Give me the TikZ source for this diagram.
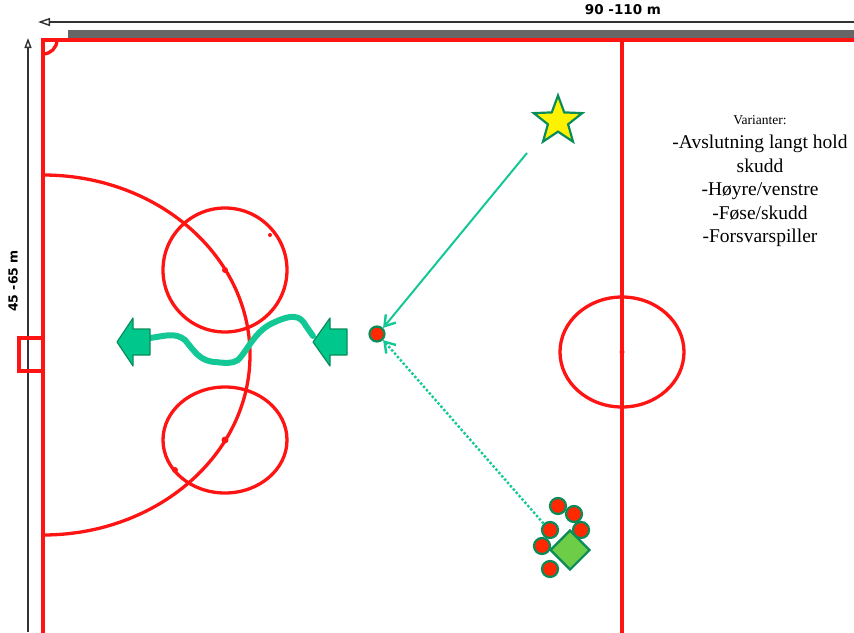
\documentclass[tikz,border=0pt]{standalone}
\usepackage{fontspec}
\setmainfont{Liberation Serif}
\newfontfamily\dejab{DejaVu Sans}
\usetikzlibrary{arrows.meta,shapes.geometric}
\definecolor{rinkred}{RGB}{255,20,20}
\definecolor{teal}{RGB}{20,200,150}
\definecolor{dkgreen}{RGB}{10,140,90}
\definecolor{arrfill}{RGB}{0,200,140}
\definecolor{lgreen}{RGB}{110,205,70}
\definecolor{plred}{RGB}{255,40,0}
\tikzset{
  rink/.style={draw=rinkred, line width=4pt},
  rinkthin/.style={draw=rinkred, line width=3.3pt},
  player/.style={circle, draw=dkgreen, line width=2.2pt, fill=plred, minimum size=16pt, inner sep=0pt},
  dotred/.style={circle, fill=rinkred, minimum size=6pt, inner sep=0pt},
  blockarrow/.style={draw=dkgreen, line width=1.2pt, fill=arrfill, line join=round},
  dim/.style={draw=black!80, line width=1.4pt},
  lbl/.style={font=\dejab\bfseries\fontsize{13.5}{15}\selectfont, inner sep=0pt},
}
\begin{document}
\begin{tikzpicture}[x=1pt,y=-1pt]
\useasboundingbox (0,0) rectangle (854,632);
% dimension arrows
\coordinate (tl) at (38,22);
\coordinate (tr) at (854,22);
\draw[dim, -{Triangle[open,length=12pt,width=8pt]}] (tr) -- (tl);
\node[lbl] (lenlbl) at (623,10) {90 -110 m};
\coordinate (vb) at (28,632);
\coordinate (vt) at (28,38);
\draw[dim, -{Triangle[open,length=10pt,width=7pt]}] (vb) -- (vt);
\node[lbl, rotate=90, font=\dejab\bfseries\fontsize{12.5}{14}\selectfont] (widlbl) at (13,281) {45 -65 m};
% gray board
\fill[black!60] (68,30) rectangle (854,38);
% rink
\draw[rink] (43,640) -- (43,40) -- (860,40);
\draw[rink] (622,40) -- (622,640);
\draw[rinkthin] (43,54) arc[start angle=-90, end angle=0, radius=14pt];
\draw[rinkthin] (43,338) -- (19,338) -- (19,371) -- (43,371);
% zone arc
\draw[rinkthin] (43,175) arc[start angle=-90, end angle=90, x radius=207pt, y radius=-180pt];
% faceoff circles
\draw[rinkthin] (225,270) ellipse[x radius=62pt, y radius=62pt];
\draw[rinkthin] (225,440) ellipse[x radius=62pt, y radius=53pt];
\draw[rinkthin] (622,352) ellipse[x radius=62pt, y radius=55pt];
\node[dotred] (d1) at (225,270) {};
\node[dotred, minimum size=7pt] (d2) at (225,440) {};
\node[dotred, minimum size=5pt] (d3) at (622,352) {};
\node[dotred, minimum size=4pt] (d4) at (270,235) {};
\node[dotred, minimum size=6pt] (d5) at (175,470) {};
% skating path
\draw[teal, line width=6pt, line cap=round, line join=round]
  (150,338) .. controls (165,336) and (175,332) .. (185,340)
  .. controls (195,352) and (200,361) .. (215,362)
  .. controls (225,363) and (232,364) .. (238,360)
  .. controls (248,350) and (255,330) .. (275,322)
  .. controls (290,315) and (300,314) .. (306,326)
  -- (313,336);
% block arrows
\draw[blockarrow] (117,342) -- (133,318) -- (133,329) -- (150,329) -- (150,355) -- (133,355) -- (133,366) -- cycle;
\draw[blockarrow] (313,342) -- (330,318) -- (330,329) -- (347,329) -- (347,355) -- (330,355) -- (330,366) -- cycle;
% star, puck, players
\node[star, star points=5, star point ratio=2.4, draw=dkgreen, line width=2.2pt, fill=yellow, minimum size=51pt, inner sep=0pt] (star) at (558,121) {};
\node[player, minimum size=15pt] (puck) at (377,334) {};
\node[player] (p1) at (558,506) {};
\node[player] (p2) at (574,514) {};
\node[player] (p3) at (581,530) {};
\node[player] (p4) at (550,530) {};
\node[player] (p5) at (542,546) {};
\node[player] (p6) at (550,569) {};
\node[diamond, draw=dkgreen, line width=2.2pt, fill=lgreen, minimum size=40pt, inner sep=0pt] (coach) at (570,550) {};
% passes
\coordinate (passstart) at (527,153);
\draw[teal, line width=2pt, -{Straight Barb[length=10pt,width=13pt,line width=2.4pt]}] (passstart) -- (puck.north east);
\draw[teal, line width=2.4pt, dotted, -{Straight Barb[length=10pt,width=13pt,line width=2.4pt]}] (p4.north west) -- (puck.south east);
% text
\node[inner sep=0pt, font=\fontsize{13.5}{15}\selectfont] (var) at (760,120) {Varianter:};
\node[inner sep=0pt, align=center, font=\fontsize{19.5}{23.5}\selectfont, anchor=north] (vlist) at (760,135) {-Avslutning langt hold\\skudd\\-Høyre/venstre\\-Føse/skudd\\-Forsvarspiller};
\end{tikzpicture}
\end{document}
